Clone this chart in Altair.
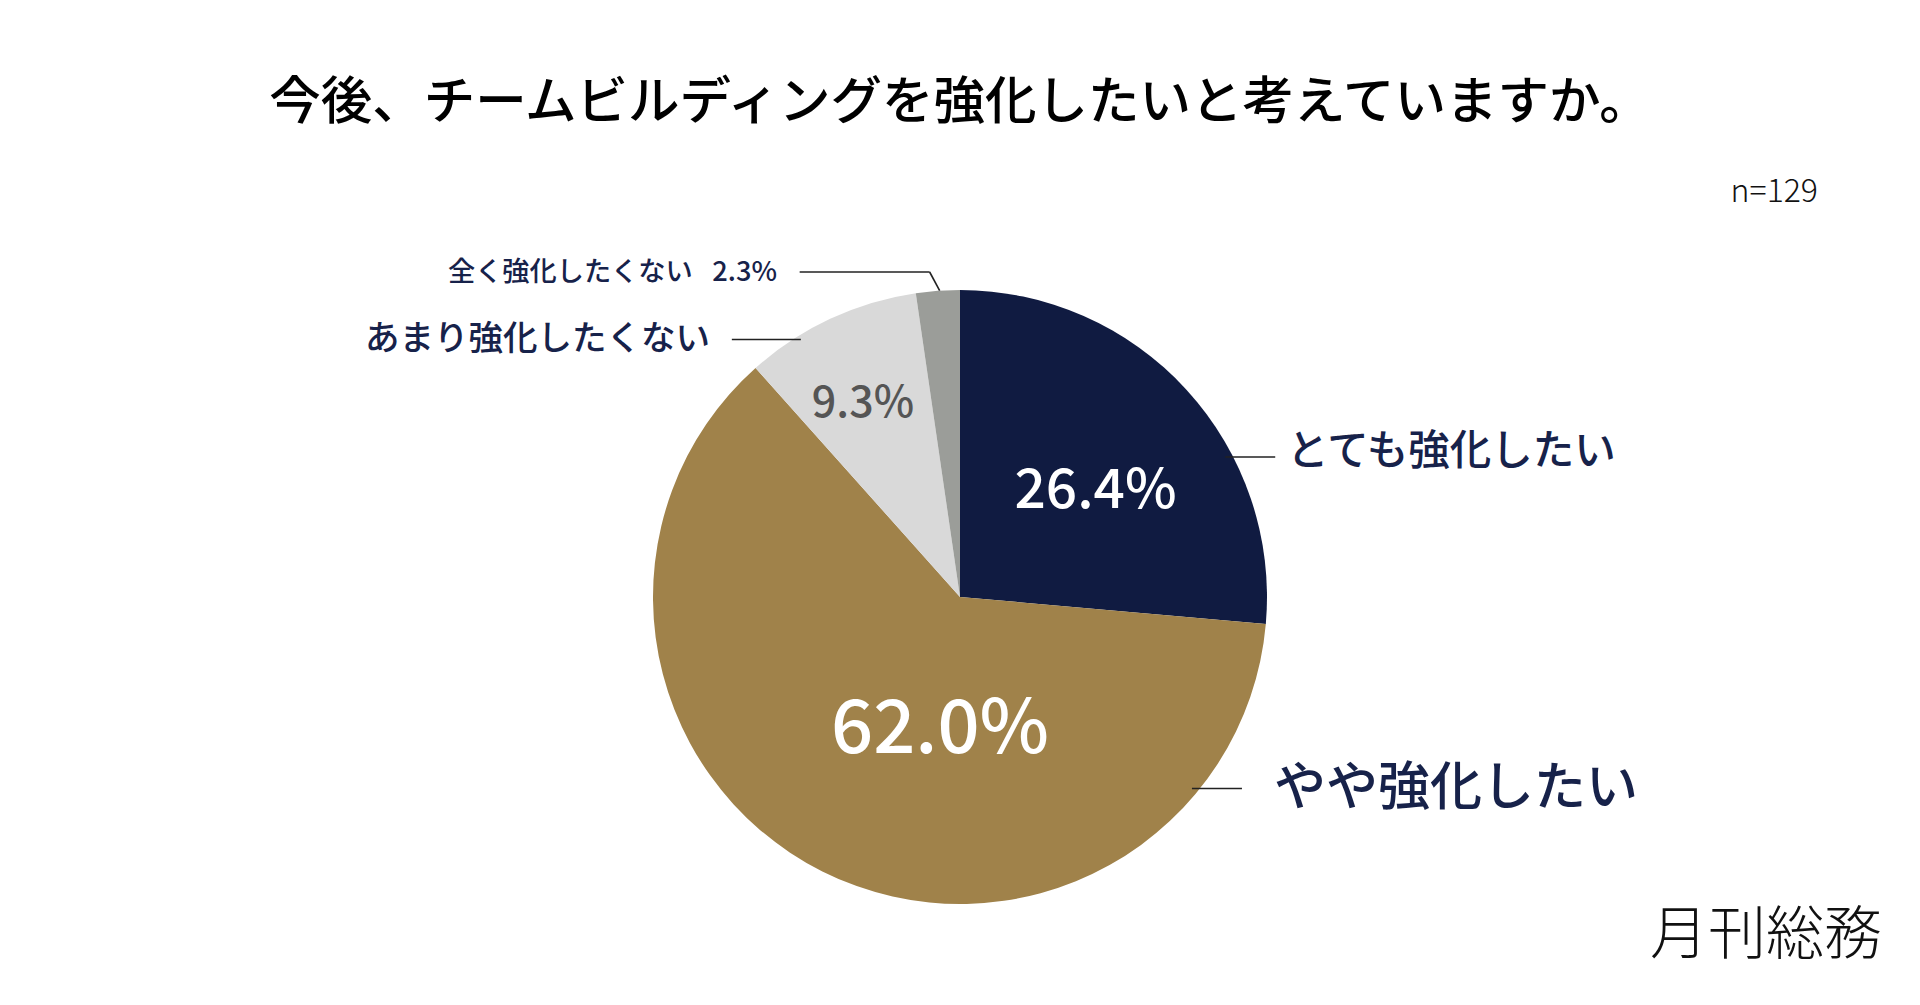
import altair as alt
import pandas as pd
import numpy as np

# ---- data ----
categories = ["とても強化したい", "やや強化したい", "あまり強化したくない", "全く強化したくない"]
values = [26.4, 62.0, 9.3, 2.3]
colors = ["#101b41", "#a0824a", "#d9d9d9", "#9b9d99"]
outside_labels = ["とても強化したい", "やや強化したい", "あまり強化したくない", "全く強化したくない\u2002 2.3%"]
title_text = "今後、チームビルディングを強化したいと考えていますか。"
n_text = "n=129"
logo_text = "月刊総務"

# ---- layout (pixels relative to the pie centre, y up) ----
W, H = 1890, 980
CX, CY = 952, 589          # pie centre inside the view
R = 307                    # pie radius
FONT = "Noto Sans CJK JP"
NAVY_TXT = "#17224a"

xs = alt.Scale(domain=[-CX, W - CX], nice=False, zero=False)
ys = alt.Scale(domain=[CY - H, CY], nice=False, zero=False)


def X(f):
    return alt.X(f, type="quantitative", scale=xs, axis=None)


def Y(f):
    return alt.Y(f, type="quantitative", scale=ys, axis=None)


pie_df = pd.DataFrame({"cat": categories, "val": values, "ord": list(range(len(values)))})

pie = alt.Chart(pie_df).mark_arc(outerRadius=R, stroke=None).encode(
    theta=alt.Theta("val:Q", stack=True),
    order=alt.Order("ord:Q"),
    color=alt.Color("cat:N", scale=alt.Scale(domain=categories, range=colors), legend=None),
    x=alt.datum(0, scale=xs, axis=None),
    y=alt.datum(0, scale=ys, axis=None),
)

# inner percentage labels (angle from 12 o'clock clockwise, distance from centre)
pct_text = ["26.4%", "62.0%", "9.3%"]
pct_angle = [52, 188.5, 333.3]
pct_dist = [172, 135, 216]
pct_size = [55, 74, 43]
pct_color = ["#ffffff", "#ffffff", "#555555"]
a = np.radians(pct_angle)
pct_df = pd.DataFrame({
    "t": pct_text,
    "x": np.array(pct_dist) * np.sin(a),
    "y": np.array(pct_dist) * np.cos(a),
    "s": pct_size,
    "c": pct_color,
})
pct = alt.Chart(pct_df).mark_text(font=FONT, fontWeight=500, baseline="middle", align="center").encode(
    x=X("x"), y=Y("y"), text="t:N",
    size=alt.Size("s:Q", scale=None, legend=None),
    color=alt.Color("c:N", scale=None, legend=None),
)

# leader lines: horizontal from the pie edge, one with an elbow
lead_y = [140, -191.5, 257.5, 325]
lead_len = [50, 50, 69, 130]
side = [1, 1, -1, -1]
segs = []
for i in range(3):
    ex = side[i] * (np.sqrt(R ** 2 - lead_y[i] ** 2) - 8)
    segs.append((ex, lead_y[i], ex + side[i] * lead_len[i], lead_y[i]))
# small slice: elbow from the edge
ang = np.radians(360 - 3.8)
ex, ey = R * np.sin(ang), R * np.cos(ang)
segs.append((ex, ey, ex - 10, lead_y[3]))
segs.append((ex - 10, lead_y[3], ex - 10 - lead_len[3], lead_y[3]))
seg_df = pd.DataFrame(segs, columns=["x", "y", "x2", "y2"])
rules = alt.Chart(seg_df).mark_rule(color="#222222", strokeWidth=1.6).encode(
    x=X("x"), y=Y("y"), x2="x2:Q", y2="y2:Q"
)

# outside labels
lab_x = [327, 314, -250, -183]
lab_y = [144, -192, 257, 324]
lab_size = [41.5, 52, 34.5, 27.2]
lab_df = pd.DataFrame({"t": outside_labels, "x": lab_x, "y": lab_y, "s": lab_size, "side": side})
right_labels = alt.Chart(lab_df[lab_df.side > 0]).mark_text(
    font=FONT, fontWeight=500, align="left", baseline="middle", color=NAVY_TXT
).encode(x=X("x"), y=Y("y"), text="t:N", size=alt.Size("s:Q", scale=None, legend=None))
left_labels = alt.Chart(lab_df[lab_df.side < 0]).mark_text(
    font=FONT, fontWeight=500, align="right", baseline="middle", color=NAVY_TXT
).encode(x=X("x"), y=Y("y"), text="t:N", size=alt.Size("s:Q", scale=None, legend=None))

# title, sample size, logo
title = alt.Chart(pd.DataFrame({"t": [title_text], "x": [0], "y": [493]})).mark_text(
    font=FONT, fontSize=51.5, fontWeight=500, color="#000000", align="center", baseline="middle"
).encode(x=X("x"), y=Y("y"), text="t:N")
ntx = alt.Chart(pd.DataFrame({"t": [n_text], "x": [858], "y": [405]})).mark_text(
    font=FONT, fontSize=32, fontWeight=300, color="#111111", align="right", baseline="middle"
).encode(x=X("x"), y=Y("y"), text="t:N")
logo = alt.Chart(pd.DataFrame({"t": [logo_text], "x": [922], "y": [-340]})).mark_text(
    font=FONT, fontSize=58, fontWeight=300, color="#111111", align="right", baseline="middle"
).encode(x=X("x"), y=Y("y"), text="t:N")

chart = alt.layer(pie, pct, rules, right_labels, left_labels, title, ntx, logo).properties(
    width=W, height=H, padding=0, background="white"
).configure_view(stroke=None)

chart.save("out.html", embed_options={"renderer": "svg", "actions": False})
